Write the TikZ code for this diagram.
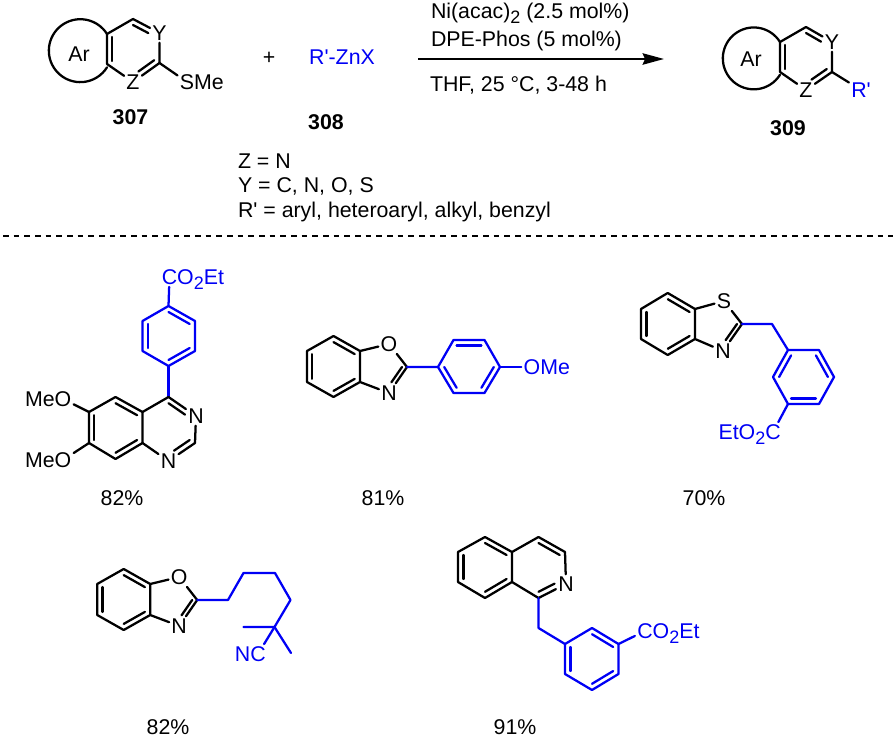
\documentclass[tikz,border=0pt]{standalone}
\usepackage{fontspec}
\setmainfont{Liberation Sans}[Ligatures=TeXOff]
\usetikzlibrary{calc,arrows.meta}
\definecolor{rblue}{RGB}{0,0,245}
\newcommand\subtwo{\raisebox{-.42ex}{\fontsize{13.5}{13.5}\selectfont 2}}
\newcommand\inn[4][]{\draw[bond,#1] ($(#2)!.2!(#4)$) -- ($(#3)!.2!(#4)$);}
\newcommand\binn[4][]{\draw[bbond,#1] ($(#2)!.2!(#4)$) -- ($(#3)!.2!(#4)$);}
\newcommand\pts[1]{\foreach \n/\a/\b in {#1}{\coordinate (\n) at (\a,\b);}}
\tikzset{
  x=0.75pt,y=-0.75pt,
  every node/.style={font=\fontsize{16}{16}\selectfont,inner sep=0pt,outer sep=0pt},
  bond/.style={line width=1.7pt,line join=round,line cap=round,black},
  bbond/.style={bond,rblue},
  atom/.style={inner sep=1.8pt},
  batom/.style={atom,text=rblue},
  tail/.style={text=rblue},
  lab/.style={anchor=base west},
  num/.style={font=\fontsize{16}{16}\selectfont\bfseries},
}
\begin{document}
\begin{tikzpicture}
\useasboundingbox (0,0) rectangle (895,737);
% ---------- 307
\pts{a1/107/34,a2/133/19,a4/159.5/63,a6/107/64,ac/133/49}
\node[atom] (aY) at (159.5,33) {Y};
\node[atom] (aZ) at (133,82) {Z};
\node[atom] (aS) at (187,82) {S};
\node[anchor=base west,xshift=-1.8pt] (aMe) at (aS.base east) {Me};
\draw[bond] (a1) arc[start angle=32,end angle=328,radius=23.6pt];
\draw[bond] (a1) -- (a2) -- (aY) -- (a4) -- (aZ) -- (a6) -- (a1);
\draw[bond] (a4) -- (aS);
\inn{a1}{a6}{ac}
\inn[shorten >=5pt]{a2}{aY}{ac}
\inn[shorten >=5pt]{a4}{aZ}{ac}
\node (aAr) at (79,54) {Ar};
\node[num] (n307) at (130.5,117) {307};
% ---------- plus, reagent
\node (plus) at (269,58) {+};
\node[text=rblue] (rzn) at (342,57) {R'-ZnX};
\node[num] (n308) at (326,122) {308};
\node[lab] (cond1) at (238,168.5) {Z = N};
\node[lab] (cond2) at (238,193) {Y = C, N, O, S};
\node[lab] (cond3) at (238,217.5) {R' = aryl, heteroaryl, alkyl, benzyl};
% ---------- arrow
\coordinate (arS) at (418,59);
\coordinate (arE) at (664,59);
\draw[line width=1.8pt,-{Stealth[length=16pt,width=8.5pt,inset=1.8pt]}] (arS) -- (arE);
\node[lab] (r1) at (431,18.5) {Ni(acac)\subtwo{} (2.5 mol\%)};
\node[lab] (r2) at (431,46.5) {DPE-Phos (5 mol\%)};
\node[lab] (r3) at (430,91.5) {THF, 25 °C, 3-48 h};
% ---------- 309
\pts{b1/780/42,b2/806/27,b4/832/72,b6/780/72,bc/806/57}
\node[atom] (bY) at (832,42) {Y};
\node[atom] (bZ) at (806,90) {Z};
\node[batom] (bR) at (861,90) {R'};
\draw[bond] (b1) arc[start angle=32,end angle=328,radius=23.2pt];
\draw[bond] (b1) -- (b2) -- (bY) -- (b4) -- (bZ) -- (b6) -- (b1);
\draw[bond] (b4) -- (bR);
\inn{b1}{b6}{bc}
\inn[shorten >=5pt]{b2}{bY}{bc}
\inn[shorten >=5pt]{b4}{bZ}{bc}
\node (bAr) at (751,59) {Ar};
\node[num] (n309) at (788,128) {309};
% ---------- separator
\coordinate (sepL) at (3,236);
\coordinate (sepR) at (893,236);
\draw[line width=1.9pt,dash pattern=on 4.2pt off 3.8pt] (sepL) -- (sepR);
% ---------- compound 1
\pts{c1/168.5/306,c2/195/321,c3/195/351,c4/168.5/366,c5/142.5/351,c6/142.5/321,cc/168.5/336,
     d4/168.5/397,d4a/142.5/412,d8a/142.5/443,d2/195/443,dc/168.5/428,
     d5/115.5/397,d6/89/412,d7/89/443,d8/115.5/459,dd/115.5/428}
\node[batom] (cC) at (169.5,277) {C};
\node[tail,anchor=base west,xshift=-1.8pt] (cO) at (cC.base east) {O\subtwo{}Et};
\node[atom] (dN3) at (196,416) {N};
\node[atom] (dN1) at (168.5,461) {N};
\node[atom] (dO1) at (63,399) {O};
\node[atom] (dO2) at (63,460) {O};
\node[anchor=base east,xshift=1.8pt] (dM1) at (dO1.base west) {Me};
\node[anchor=base east,xshift=1.8pt] (dM2) at (dO2.base west) {Me};
\draw[bbond] (cC) -- (c1) -- (c2) -- (c3) -- (c4) -- (c5) -- (c6) -- (c1);
\draw[bbond] (c4) -- (d4);
\binn{c1}{c2}{cc}\binn{c5}{c6}{cc}\binn{c3}{c4}{cc}
\draw[bond] (d4) -- (dN3) -- (d2) -- (dN1) -- (d8a) -- (d4a) -- (d4);
\draw[bond] (d4a) -- (d5) -- (d6) -- (d7) -- (d8) -- (d8a);
\draw[bond] (d6) -- (dO1);
\draw[bond] (d7) -- (dO2);
\inn[shorten >=5pt]{d4}{dN3}{dc}
\inn[shorten >=5pt]{d2}{dN1}{dc}
\inn{d5}{d4a}{dd}\inn{d6}{d7}{dd}\inn{d8}{d8a}{dd}
\node (y1) at (122,498) {82\%};
% ---------- compound 2
\pts{e1/333.5/336,e2/360/351,e3/360/382,e4/333.5/397,e5/307/382,e6/307/351,ec/333.5/366.5,
     e7/407/367,ef/382/367,
     f1/438/367,f2/453.5/340,f3/484.5/340,f4/500/367,f5/484.5/393,f6/453.5/393,fc/469/367}
\node[atom] (eO) at (389,344) {O};
\node[atom] (eN) at (389,393) {N};
\node[batom] (fO) at (532,367) {O};
\node[tail,anchor=base west,xshift=-1.8pt] (fM) at (fO.base east) {Me};
\draw[bond] (e2) -- (e1) -- (e6) -- (e5) -- (e4) -- (e3) -- (e2) -- (eO) -- (e7) -- (eN) -- (e3);
\inn{e1}{e2}{ec}\inn{e5}{e6}{ec}\inn{e3}{e4}{ec}
\inn[shorten >=5pt]{e7}{eN}{ef}
\draw[bbond] (e7) -- (f1) -- (f2) -- (f3) -- (f4) -- (f5) -- (f6) -- (f1);
\draw[bbond] (f4) -- (fO);
\binn{f2}{f3}{fc}\binn{f4}{f5}{fc}\binn{f6}{f1}{fc}
\node (y2) at (383,498) {81\%};
% ---------- compound 3
\pts{g1/667.7/293,g2/695/309,g3/695/339,g4/667.7/355,g5/641/339,g6/641/309,gc/668/324,
     g7/742/324,gf/717/324,
     h0/772/324,h1/788/350,h2/819/350,h3/834/377,h4/819/404,h5/788/404,h6/773/377,hc/803.5/377}
\node[atom] (gS) at (724,301) {S};
\node[atom] (gN) at (723,351) {N};
\node[batom] (hC) at (773,432) {C};
\node[tail,anchor=base east,xshift=1.8pt] (hE) at (hC.base west) {EtO\subtwo{}};
\draw[bond] (g2) -- (g1) -- (g6) -- (g5) -- (g4) -- (g3) -- (g2) -- (gS) -- (g7) -- (gN) -- (g3);
\inn{g1}{g2}{gc}\inn{g5}{g6}{gc}\inn{g3}{g4}{gc}
\inn[shorten >=5pt]{g7}{gN}{gf}
\draw[bbond] (g7) -- (h0) -- (h1) -- (h2) -- (h3) -- (h4) -- (h5) -- (h6) -- (h1);
\draw[bbond] (h5) -- (hC);
\binn{h1}{h6}{hc}\binn{h2}{h3}{hc}\binn{h4}{h5}{hc}
\node (y3) at (704,498) {70\%};
% ---------- compound 4
\pts{i1/123.7/569,i2/150.2/584,i3/150.2/615,i4/123.7/630,i5/97.2/615,i6/97.2/584,ic/123.7/599.5,
     i7/197.2/600,if/172/600,
     j1/228/600,j2/243.5/573,j3/275/573,j4/290.5/600,j5/274.5/627,j6/243.5/627,j7/291/653}
\node[atom] (iO) at (179.2,577) {O};
\node[atom] (iN) at (179.2,626) {N};
\node[batom] (jC) at (258,654) {C};
\node[tail,anchor=base east,xshift=1.8pt] (jN) at (jC.base west) {N};
\draw[bond] (i2) -- (i1) -- (i6) -- (i5) -- (i4) -- (i3) -- (i2) -- (iO) -- (i7) -- (iN) -- (i3);
\inn{i1}{i2}{ic}\inn{i5}{i6}{ic}\inn{i3}{i4}{ic}
\inn[shorten >=5pt]{i7}{iN}{if}
\draw[bbond] (i7) -- (j1) -- (j2) -- (j3) -- (j4) -- (j5) -- (j6);
\draw[bbond] (j5) -- (j7);
\draw[bbond] (j5) -- (jC);
\node (y4) at (168,727) {82\%};
% ---------- compound 5
\pts{k1/485/537,k2/512/552,k3/512/582,k4/485/598,k5/458/582,k6/458/552,kc/485/567,
     k7/538.5/537,k8/565/552,k9/538.5/598,kd/538.5/567,
     l0/538.5/628,l1/565/644,l2/592/628,l3/618.5/644,l4/618.5/674,l5/592/690,l6/565/674,lc/592/659}
\node[atom] (kN) at (566,584) {N};
\node[batom] (lC) at (645,631) {C};
\node[tail,anchor=base west,xshift=-1.8pt] (lO) at (lC.base east) {O\subtwo{}Et};
\draw[bond] (k2) -- (k1) -- (k6) -- (k5) -- (k4) -- (k3) -- (k2) -- (k7) -- (k8) -- (kN) -- (k9) -- (k3);
\inn{k1}{k2}{kc}\inn{k5}{k6}{kc}\inn{k3}{k4}{kc}
\inn{k7}{k8}{kd}
\inn[shorten >=5pt]{k9}{kN}{kd}
\draw[bbond] (k9) -- (l0) -- (l1) -- (l2) -- (l3) -- (l4) -- (l5) -- (l6) -- (l1);
\draw[bbond] (l3) -- (lC);
\binn{l2}{l3}{lc}\binn{l1}{l6}{lc}\binn{l4}{l5}{lc}
\node (y5) at (515,727) {91\%};
\end{tikzpicture}
\end{document}
